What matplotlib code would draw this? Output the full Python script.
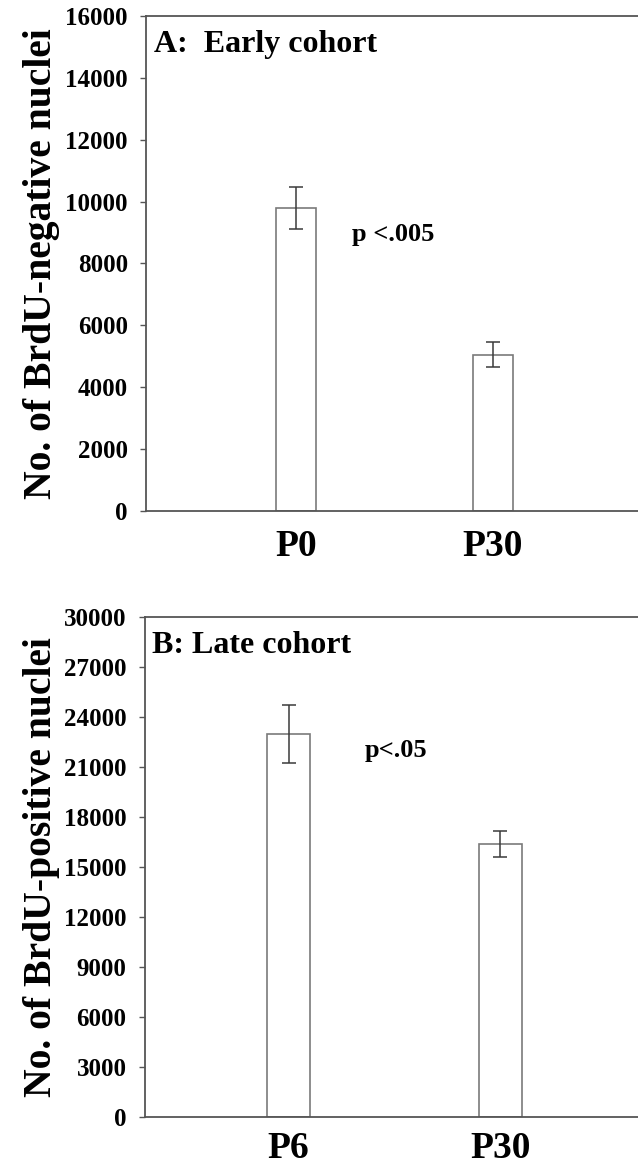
import matplotlib.pyplot as plt

# panel A: early cohort
cats_a = ['P0', 'P30']
mean_a = [9800, 5050]
err_a = [680, 400]

# panel B: late cohort
cats_b = ['P6', 'P30']
mean_b = [22970, 16400]
err_b = [1750, 780]

plt.rcParams['font.family'] = 'Liberation Serif'
plt.rcParams['font.weight'] = 'bold'

fig = plt.figure(figsize=(6.38, 11.69), dpi=100)
ax1 = fig.add_axes([0.2288, 0.5629, 0.7712, 0.4234])
ax2 = fig.add_axes([0.2266, 0.0445, 0.7734, 0.4277])


def draw(ax, cats, means, errs, ylim, step, xlim, title, ylabel, ptxt, pxy, xpad):
    x = range(len(cats))
    ax.bar(x, means, width=0.203, color='white', edgecolor='#7a7a7a', linewidth=1.2, zorder=2)
    ax.errorbar(x, means, yerr=errs, fmt='none', ecolor='#3a3a3a', elinewidth=1.1,
                capsize=4.7, capthick=1.1, zorder=3)
    ax.set_xlim(*xlim)
    ax.set_ylim(0, ylim)
    ax.set_yticks(range(0, ylim + 1, step))
    ax.set_xticks(list(x))
    ax.set_xticklabels(cats, fontsize=27, fontweight='bold')
    ax.tick_params(axis='x', length=0, pad=xpad)
    ax.tick_params(axis='y', direction='out', length=4, width=1, color='#555555',
                   labelsize=18, pad=9)
    for lab in ax.get_yticklabels():
        lab.set_fontweight('bold')
    ax.spines['right'].set_visible(False)
    for s in ['left', 'bottom', 'top']:
        ax.spines[s].set_color('#555555')
        ax.spines[s].set_linewidth(1.3)
    ax.text(0.016, 0.972, title, transform=ax.transAxes, fontsize=23,
            fontweight='bold', va='top', ha='left')
    ax.text(pxy[0], pxy[1], ptxt, fontsize=19, fontweight='bold', va='center', ha='left')
    ax.set_ylabel(ylabel, fontsize=28.5, fontweight='bold')


draw(ax1, cats_a, mean_a, err_a, 16000, 2000, (-0.76, 1.736),
     'A:  Early cohort', 'No. of BrdU-negative nuclei', 'p <.005', (0.284, 8950), 13)
draw(ax2, cats_b, mean_b, err_b, 30000, 3000, (-0.68, 1.65),
     'B: Late cohort', 'No. of BrdU-positive nuclei', 'p<.05', (0.361, 22000), 10)

ax1.yaxis.set_label_coords(-0.175, 0.5)
ax2.yaxis.set_label_coords(-0.172, 0.5)

fig.savefig('out.png', dpi=100)
